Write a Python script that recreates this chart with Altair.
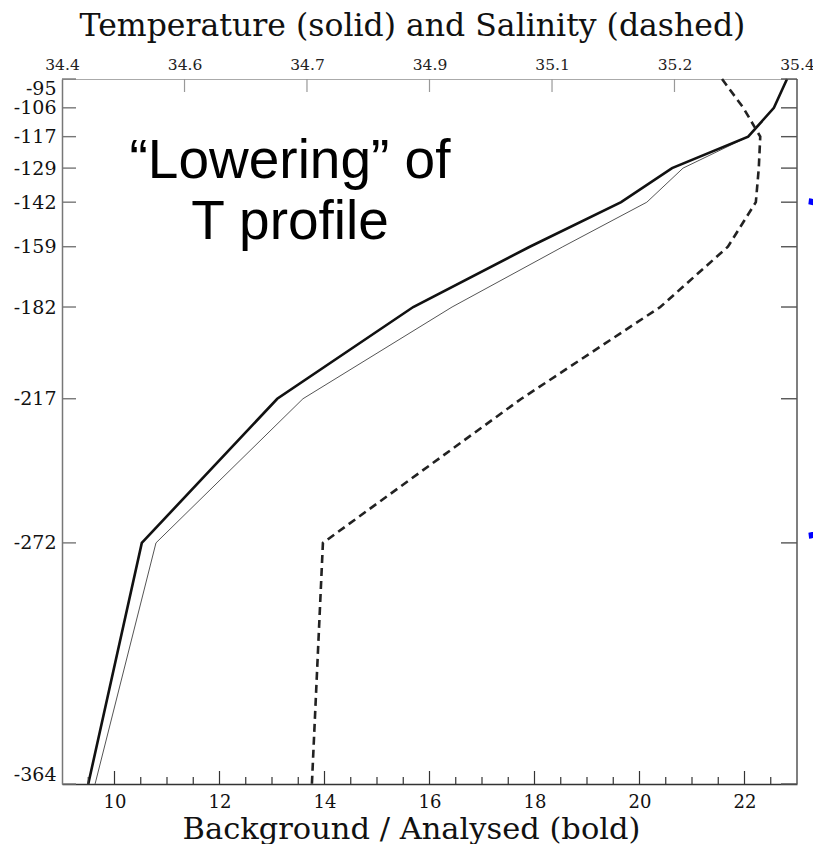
import altair as alt
import pandas as pd

# ---- data ----
depth = [-95, -106, -117, -129, -142, -159, -182, -217, -272, -364]
temp_analysed = [22.81, 22.56, 22.07, 20.62, 19.65, 17.91, 15.69, 13.10, 10.52, 9.50]
temp_background = [22.81, 22.56, 22.07, 20.83, 20.14, 18.54, 16.43, 13.59, 10.79, 9.63]
salinity = [35.298, 35.327, 35.350, 35.348, 35.344, 35.306, 35.214, 35.025, 34.755, 34.740]

temp_major = [10, 12, 14, 16, 18, 20, 22]
temp_minor = [9.5, 10.5, 11, 11.5, 12.5, 13, 13.5, 14.5, 15, 15.5, 16.5, 17,
              17.5, 18.5, 19, 19.5, 20.5, 21, 21.5, 22.5]
sal_ticks = [34.4, 34.5667, 34.7333, 34.9, 35.0667, 35.2333, 35.4]
depth_ticks = [-95, -106, -117, -129, -142, -159, -182, -217, -272, -364]

title_top = "Temperature (solid) and Salinity (dashed)"
title_bottom = "Background / Analysed (bold)"
annotation = ["\u201cLowering\u201d of", "T profile"]

SERIF = "DejaVu Serif"
SANS = "Liberation Sans"
W, H = 735, 705

profiles = pd.DataFrame({
    "idx": list(range(len(depth))),
    "depth": depth,
    "t_an": temp_analysed,
    "t_bg": temp_background,
    "sal": salinity,
})
one = pd.DataFrame({"k": [0]})
ytick_df = pd.DataFrame({"depth": depth_ticks})
major_df = pd.DataFrame({"t": temp_major})
minor_df = pd.DataFrame({"t": temp_minor})
stick_df = pd.DataFrame({"s": sal_ticks[1:-1]})

T_scale = alt.Scale(domain=[9, 23], nice=False, zero=False)
S_scale = alt.Scale(domain=[34.4, 35.4], nice=False, zero=False)
Y_scale = alt.Scale(domain=[-364, -95], nice=False, zero=False)

y_axis = alt.Axis(values=depth_ticks, ticks=False, grid=False, title=None,
                  labelExpr="toString(datum.value)", labelFont=SERIF,
                  labelFontSize=19, labelColor="#111", labelPadding=6,
                  labelOverlap=False, labelFlush=True,
                  domainColor="#777", domainWidth=1.5)
yenc = alt.Y("depth:Q", scale=Y_scale, axis=y_axis)

bottom_axis = alt.Axis(orient="bottom", values=temp_major, ticks=False, grid=False,
                       format="d", labelFont=SERIF, labelFontSize=18,
                       labelColor="#111", labelPadding=9, labelFlush=False,
                       domainColor="#333", domainWidth=1.5,
                       title=title_bottom, titleFont=SERIF, titleFontSize=30.5,
                       titleFontWeight="normal", titleColor="#111",
                       titleX=349, titleY=54, titleBaseline="alphabetic")

top_axis = alt.Axis(orient="top", values=sal_ticks, ticks=False, grid=False,
                    labelExpr="format(datum.value, '.1f')", labelFont=SERIF,
                    labelFontSize=15.5, labelColor="#222", labelPadding=7,
                    labelFlush=False, labelOverlap=False,
                    domainColor="#aaa", domainWidth=1.2,
                    title=title_top, titleFont=SERIF, titleFontSize=31.5,
                    titleFontWeight="normal", titleColor="#111",
                    titleX=350, titleY=-44, titleBaseline="alphabetic")

base = alt.Chart(profiles)

bg_line = base.mark_line(color="#555", strokeWidth=1).encode(
    x=alt.X("t_bg:Q", scale=T_scale, axis=None), y=yenc, order="idx:Q")
an_line = base.mark_line(color="#111", strokeWidth=2.6).encode(
    x=alt.X("t_an:Q", scale=T_scale, axis=bottom_axis), y=yenc, order="idx:Q")
sal_line = base.mark_line(color="#222", strokeWidth=2.6, strokeDash=[8, 5]).encode(
    x=alt.X("sal:Q", scale=S_scale, axis=top_axis), y=yenc, order="idx:Q")

left_ticks = alt.Chart(ytick_df).mark_rule(color="#777", strokeWidth=1.4).encode(
    y=yenc, x=alt.value(0), x2=alt.value(14))
right_ticks = alt.Chart(ytick_df).mark_rule(color="#555", strokeWidth=1.4).encode(
    y=yenc, x=alt.value(W - 16), x2=alt.value(W))
right_line = alt.Chart(one).mark_rule(color="#555", strokeWidth=1.5).encode(
    x=alt.value(W), y=alt.value(0), y2=alt.value(H))
major_ticks = alt.Chart(major_df).mark_rule(color="#333", strokeWidth=1.2).encode(
    x=alt.X("t:Q", scale=T_scale, axis=None), y=alt.value(H), y2=alt.value(H - 13))
minor_ticks = alt.Chart(minor_df).mark_rule(color="#333", strokeWidth=1.2).encode(
    x=alt.X("t:Q", scale=T_scale, axis=None), y=alt.value(H), y2=alt.value(H - 7))
top_ticks = alt.Chart(stick_df).mark_rule(color="#999", strokeWidth=1.2).encode(
    x=alt.X("s:Q", scale=S_scale, axis=None), y=alt.value(0), y2=alt.value(13))

ann1 = alt.Chart(one).mark_text(text=annotation[0], font=SANS, fontSize=55,
                                align="center", baseline="alphabetic", color="#000").encode(
    x=alt.value(228), y=alt.value(99))
ann2 = alt.Chart(one).mark_text(text=annotation[1], font=SANS, fontSize=55,
                                align="center", baseline="alphabetic", color="#000").encode(
    x=alt.value(228), y=alt.value(160))

arc_top = alt.Chart(one).mark_arc(radius=34, radius2=28, theta=0.12, theta2=0.9,
                                  fill="#0000ff").encode(x=alt.value(743), y=alt.value(153))
arc_bot = alt.Chart(one).mark_arc(radius=34, radius2=28, theta=2.25, theta2=3.02,
                                  fill="#0000ff").encode(x=alt.value(743), y=alt.value(426))

chart = alt.layer(
    bg_line, an_line, sal_line,
    left_ticks, right_ticks, right_line, major_ticks, minor_ticks, top_ticks,
    ann1, ann2, arc_top, arc_bot,
).resolve_scale(x="independent").properties(
    width=W, height=H,
    autosize=alt.AutoSizeParams(type="none"),
    padding={"left": 54, "top": 71, "right": 16, "bottom": 60},
).configure_view(stroke=None)

chart.save("out.html", embed_options={"renderer": "svg", "actions": False})
